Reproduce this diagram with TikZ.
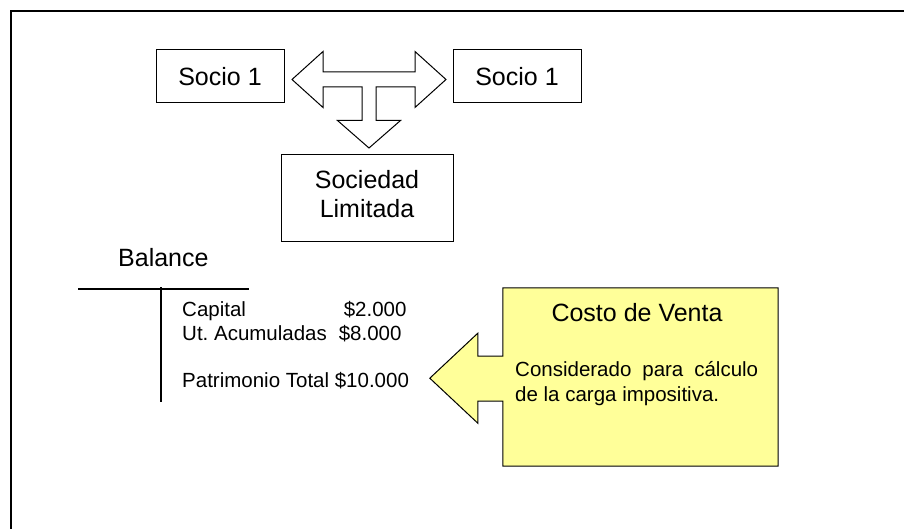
\documentclass[tikz,border=0pt]{standalone}
\usepackage{fontspec}
\setmainfont{Liberation Sans}
\usetikzlibrary{positioning}
\frenchspacing
\definecolor{amarillo}{RGB}{255,255,153}
\tikzset{socio/.style={draw, line width=1pt, minimum width=128pt, minimum height=53pt, inner sep=0pt, font=\fontsize{25}{29}\selectfont}, bal/.style={anchor=base west, inner sep=0pt, font=\fontsize{20.5}{25}\selectfont}, monto/.style={bal, anchor=base east}, flecha/.style={draw, line width=1pt, line join=miter}}

\begin{document}
\begin{tikzpicture}[x=1pt, y=-1pt]
    \useasboundingbox (0,0) rectangle (904,529);
    \draw[line width=1.4pt] (11,529) |- (904,11);
    % socios y sociedad
    \node[socio] (S1) at (220,76.5) {Socio 1};
    \node[socio, right=168pt of S1] (S2) {Socio 1};
    \node[socio, minimum width=172pt, minimum height=87pt, align=center, text depth=9pt] (SL) at (367,198.5) {Sociedad\\Limitada};
    \coordinate (T) at (369,79.5);
    \draw[flecha] (T) ++(-77,0) -- ++(31,-28) -- ++(0,20.5) -- ++(92,0) -- ++(0,-20.5) -- ++(31,28) -- ++(-31,28) -- ++(0,-20.5) -- ++(-39,0) -- ++(0,33.5) -- ++(24.5,0) -- ++(-31.5,27.5) -- ++(-31.5,-27.5) -- ++(24.5,0) -- ++(0,-33.5) -- ++(-39,0) -- ++(0,20.5) -- cycle;
    % balance
    \node[bal, font=\fontsize{25}{29}\selectfont] (B) at (118,266) {Balance};
    \draw[line width=1.3pt] (78,289) -- (249,289);
    \draw[line width=1.3pt] (161,287) -- (161,402);
    \node[bal] (C1) at (182,316.7) {Capital};
    \node[monto] (M1) at (406.7,316.7) {\$2.000};
    \node[bal] (C2) at (182,340) {Ut. Acumuladas};
    \node[monto] (M2) at (401.7,340) {\$8.000};
    \node[bal] (PT) at (182,387.7) {Patrimonio Total \$10.000};
    % costo de venta
    \node[minimum width=275pt, minimum height=178pt, inner sep=0pt] (CV) at (640.5,377) {};
    \draw[flecha, fill=amarillo] (CV.north west) -- (CV.north east) -- (CV.south east) -- (CV.south west) -- ++(0,-65) -- ++(-25,0) -- ++(0,22) -- ++(-48,-45) -- ++(48,-45) -- ++(0,23) -- ++(25,0) -- cycle;
    \node[anchor=base, inner sep=0pt, font=\fontsize{25}{29}\selectfont] (CT) at (637,321.7) {Costo de Venta};
    \node[anchor=north west, inner sep=0pt, text width=243pt, align=justify, font=\fontsize{20.5}{25}\selectfont] (CX) at (515,361.5) {\tolerance=9999 \hyphenpenalty=10000 Considerado para cálculo de la carga impositiva.};
\end{tikzpicture}
\end{document}
